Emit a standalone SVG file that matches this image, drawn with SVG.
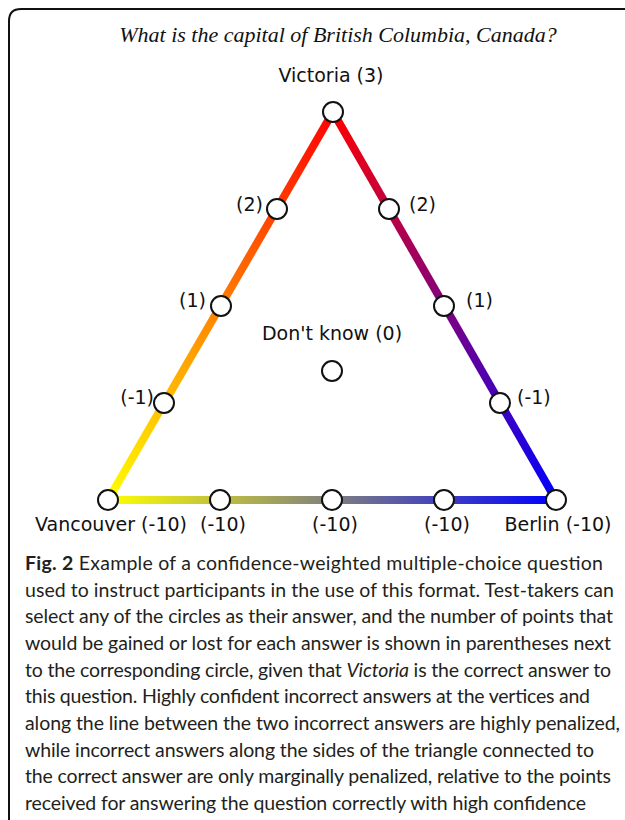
<svg xmlns="http://www.w3.org/2000/svg" width="625" height="820" viewBox="0 0 625 820">
<style>
.lbl{font-family:"DejaVu Sans",Verdana,sans-serif;font-size:19px;fill:#111}
.node{fill:#fff;stroke:#111;stroke-width:2}
.edge{fill:none;stroke-width:8;stroke-linecap:butt}
.cap{font-family:Lato,"Open Sans",sans-serif;font-size:19.5px;fill:#231f20}
.title{font-family:"Liberation Serif",serif;font-style:italic;font-size:22px;fill:#111}
</style>
<defs>
<linearGradient id="gL" gradientUnits="userSpaceOnUse" x1="333" y1="112" x2="108" y2="500"><stop offset="0" stop-color="#ff0000"/><stop offset="1" stop-color="#ffff00"/></linearGradient>
<linearGradient id="gR" gradientUnits="userSpaceOnUse" x1="333" y1="112" x2="556" y2="500"><stop offset="0" stop-color="#ff0000"/><stop offset="1" stop-color="#0000ff"/></linearGradient>
<linearGradient id="gB" gradientUnits="userSpaceOnUse" x1="108" y1="500" x2="556" y2="500"><stop offset="0" stop-color="#ffff00"/><stop offset="1" stop-color="#0000ff"/></linearGradient>
</defs>
<path d="M625 9 H21 Q9 9 9 21 V820" fill="none" stroke="#111" stroke-width="2"/>
<text class="title" x="338" y="42" text-anchor="middle">What is the capital of British Columbia, Canada?</text>
<g id="connectors">
<line class="edge" x1="333" y1="112" x2="108" y2="500" stroke="url(#gL)"/>
<line class="edge" x1="333" y1="112" x2="556" y2="500" stroke="url(#gR)"/>
<line class="edge" x1="108" y1="500" x2="556" y2="500" stroke="url(#gB)"/>
</g>
<g id="victoria"><circle class="node" cx="333" cy="112" r="10"/><text class="lbl" x="331" y="82" text-anchor="middle">Victoria (3)</text></g>
<g id="l2"><circle class="node" cx="277" cy="209" r="10"/><text class="lbl" x="263" y="211" text-anchor="end">(2)</text></g>
<g id="l1"><circle class="node" cx="221" cy="306" r="10"/><text class="lbl" x="206" y="307" text-anchor="end">(1)</text></g>
<g id="lm1"><circle class="node" cx="164" cy="403" r="10"/><text class="lbl" x="154" y="404" text-anchor="end">(-1)</text></g>
<g id="r2"><circle class="node" cx="389" cy="209" r="10"/><text class="lbl" x="409" y="211">(2)</text></g>
<g id="r1"><circle class="node" cx="444" cy="306" r="10"/><text class="lbl" x="466" y="307">(1)</text></g>
<g id="rm1"><circle class="node" cx="500" cy="403" r="10"/><text class="lbl" x="517" y="404">(-1)</text></g>
<g id="dontknow"><circle class="node" cx="332" cy="371" r="10"/><text class="lbl" x="332" y="340" text-anchor="middle">Don't know (0)</text></g>
<g id="vancouver"><circle class="node" cx="108" cy="500" r="10"/><text class="lbl" x="111" y="531" text-anchor="middle">Vancouver (-10)</text></g>
<g id="b1"><circle class="node" cx="220" cy="500" r="10"/><text class="lbl" x="223" y="531" text-anchor="middle">(-10)</text></g>
<g id="b2"><circle class="node" cx="332" cy="500" r="10"/><text class="lbl" x="335" y="531" text-anchor="middle">(-10)</text></g>
<g id="b3"><circle class="node" cx="444" cy="500" r="10"/><text class="lbl" x="447" y="531" text-anchor="middle">(-10)</text></g>
<g id="berlin"><circle class="node" cx="556" cy="500" r="10"/><text class="lbl" x="558" y="531" text-anchor="middle">Berlin (-10)</text></g>
<g id="caption" class="cap">
<text x="25" y="570" textLength="578" lengthAdjust="spacing"><tspan font-weight="bold">Fig. 2</tspan> Example of a confidence-weighted multiple-choice question</text>
<text x="25" y="597" textLength="589" lengthAdjust="spacing">used to instruct participants in the use of this format. Test-takers can</text>
<text x="25" y="623" textLength="588" lengthAdjust="spacing">select any of the circles as their answer, and the number of points that</text>
<text x="25" y="650" textLength="586" lengthAdjust="spacing">would be gained or lost for each answer is shown in parentheses next</text>
<text x="25" y="677" textLength="586" lengthAdjust="spacing">to the corresponding circle, given that <tspan font-style="italic">Victoria</tspan> is the correct answer to</text>
<text x="25" y="703" textLength="565" lengthAdjust="spacing">this question. Highly confident incorrect answers at the vertices and</text>
<text x="25" y="730" textLength="595" lengthAdjust="spacing">along the line between the two incorrect answers are highly penalized,</text>
<text x="25" y="757" textLength="569" lengthAdjust="spacing">while incorrect answers along the sides of the triangle connected to</text>
<text x="25" y="783" textLength="586" lengthAdjust="spacing">the correct answer are only marginally penalized, relative to the points</text>
<text x="25" y="810" textLength="561" lengthAdjust="spacing">received for answering the question correctly with high confidence</text>
</g>
</svg>
